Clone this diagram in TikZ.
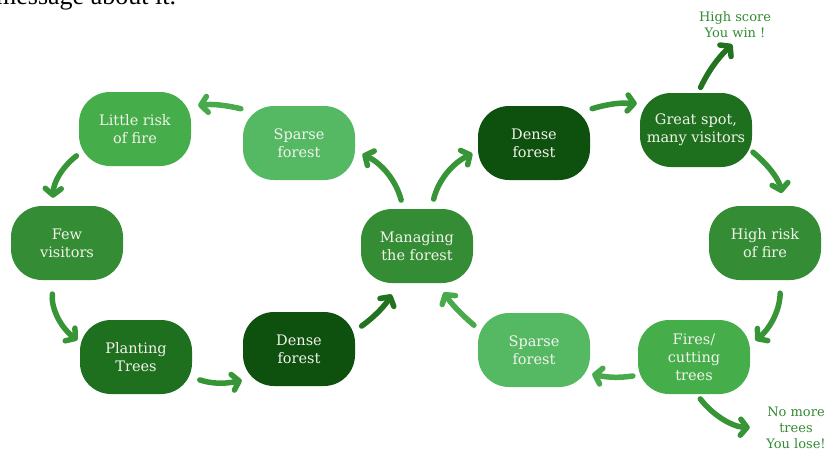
\documentclass[tikz,border=0pt]{standalone}
\usepackage{fontspec}
\setmainfont{DejaVu Serif}
\newfontfamily\captionfont{Liberation Serif}
\usetikzlibrary{arrows.meta}
\definecolor{leaf}{HTML}{45AE4A}
\definecolor{leaflight}{HTML}{55B964}
\definecolor{leafmid}{HTML}{348D34}
\definecolor{leafdark}{HTML}{1E701E}
\definecolor{leafdeep}{HTML}{0E500E}
\definecolor{flowlight}{HTML}{48AA4C}
\definecolor{flowmid}{HTML}{379537}
\definecolor{flowdark}{HTML}{22721F}
\definecolor{paletext}{HTML}{F3F3EC}
\definecolor{resulttext}{HTML}{338A33}

\begin{document}
\begin{tikzpicture}[x=1pt,y=-1pt,
  stage/.style={rounded corners=31pt,minimum width=112pt,minimum height=74pt,inner sep=0pt,
    align=center,text=paletext,font=\fontsize{14.5}{18}\selectfont},
  flow/.style={line width=5.5pt,line cap=round,
    -{Straight Barb[length=6.5pt,width=16pt,line cap=round,line join=round]}},
  result/.style={align=center,text=resulttext,font=\fontsize{13}{16}\selectfont}]
  \useasboundingbox (0,0) rectangle (829,452);

  % Cut-off line of text above the picture
  \node[anchor=base west,inner sep=0pt,font=\captionfont\fontsize{26}{26}\selectfont] (note) at (-4,5) {message about it.};

  % Left loop
  \node[stage,fill=leaf] (risk) at (135,129) {Little risk\\of fire};
  \node[stage,fill=leaflight] (sparseA) at (299,143) {Sparse\\forest};
  \node[stage,fill=leafmid] (fewv) at (67,243) {Few\\visitors};
  \node[stage,fill=leafdark] (plant) at (136,357) {Planting\\Trees};
  \node[stage,fill=leafdeep] (denseA) at (299,349) {Dense\\forest};

  % Centre
  \node[stage,fill=leafmid] (manag) at (417,246) {Managing\\the forest};

  % Right loop
  \node[stage,fill=leafdeep] (denseB) at (534,143) {Dense\\forest};
  \node[stage,fill=leafdark] (great) at (696,130) {Great spot,\\many visitors};
  \node[stage,fill=leafmid] (highr) at (765,243) {High risk\\of fire};
  \node[stage,fill=leaf] (fires) at (694,357) {Fires/\\cutting\\trees};
  \node[stage,fill=leaflight] (sparseB) at (534,350) {Sparse\\forest};

  % Outcomes
  \node[result] (win) at (735,25) {High score\\You win !};
  \node[result] (lose) at (796,428) {No more\\trees\\You lose!};

  % Arrows of the left loop
  \draw[flow,flowlight,shorten <=2pt,shorten >=7pt] (sparseA.149) to[bend right=10] (risk.22);
  \draw[flow,flowmid,shorten <=3pt,shorten >=8pt] (risk.204) to[bend right=25] (fewv.111);
  \draw[flow,flowmid,shorten <=14pt,shorten >=3pt] (fewv.251) to[bend right=30] (plant.165);
  \draw[flow,flowmid,shorten <=8pt,shorten >=1pt] (plant.340) to[bend right=15] (denseA.209);
  \draw[flow,flowdark,shorten <=8pt,shorten >=13pt] (denseA.18) to[bend right=12] (manag.243);
  \draw[flow,flowmid,shorten <=9pt,shorten >=8pt] (manag.110) to[bend right=25] (sparseA.352);

  % Arrows of the right loop
  \draw[flow,flowmid,shorten <=10pt,shorten >=6pt] (manag.69) to[bend left=25] (denseB.188);
  \draw[flow,flowmid,shorten <=2pt,shorten >=3pt] (denseB.31) to[bend left=10] (great.155);
  \draw[flow,flowmid,shorten <=1pt,shorten >=13pt] (great.339) to[bend left=20] (highr.63);
  \draw[flow,flowmid,shorten <=13pt,shorten >=7pt] (highr.292) to[bend left=25] (fires.12);
  \draw[flow,flowlight,shorten <=5pt,shorten >=2pt] (fires.198) to[bend left=10] (sparseB.337);
  \draw[flow,flowlight,shorten <=5pt,shorten >=11pt] (sparseB.159) to[bend left=8] (manag.299);

  % Arrows to the outcomes
  \draw[flow,flowdark,shorten <=6pt,shorten >=4pt] (great.87) to[bend left=10] (win.south);
  \draw[flow,flowmid,shorten <=6pt,shorten >=13pt] (fires.274) to[bend right=25] (lose.west);
\end{tikzpicture}
\end{document}
